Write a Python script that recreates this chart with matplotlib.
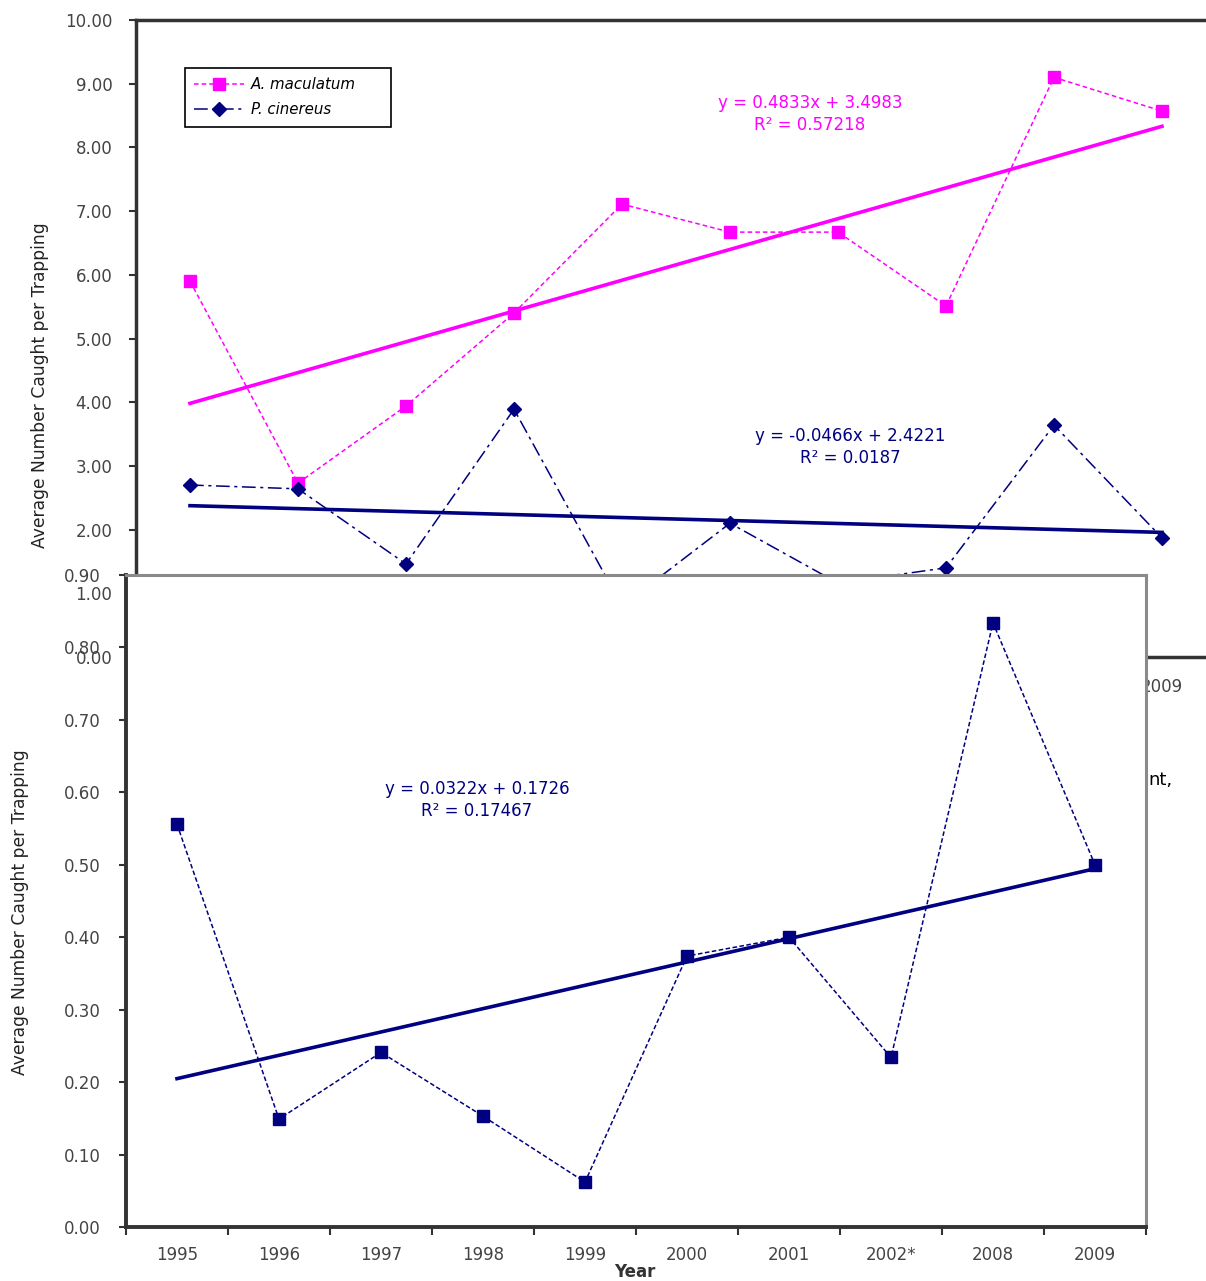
"""Two overlapping salamander trapping charts (A. maculatum / P. cinereus, and a second species)."""

import matplotlib

matplotlib.use("Agg")
import matplotlib.pyplot as plt

YEARS = ["1995", "1996", "1997", "1998", "1999", "2000", "2001", "2002*", "2008", "2009"]

# upper chart
MACULATUM = [5.90, 2.73, 3.94, 5.40, 7.11, 6.67, 6.67, 5.51, 9.10, 8.57]
CINEREUS = [2.70, 2.64, 1.46, 3.89, 0.80, 2.10, 1.16, 1.40, 3.64, 1.87]
MAC_FIT = (0.4833, 3.4983)
CIN_FIT = (-0.0466, 2.4221)
MAC_EQ = "y = 0.4833x + 3.4983\nR² = 0.57218"
CIN_EQ = "y = -0.0466x + 2.4221\nR² = 0.0187"

# lower chart
LOWER = [0.556, 0.149, 0.241, 0.153, 0.062, 0.374, 0.400, 0.234, 0.834, 0.500]
LOWER_FIT = (0.0322, 0.1726)
LOWER_EQ = "y = 0.0322x + 0.1726\nR² = 0.17467"

YLABEL = "Average Number Caught per Trapping"

W, H = 1206, 1281
MAGENTA = "#FF00FF"
NAVY = "#000080"
DARK = "#333333"
TEXT = "#444444"
GREY = "#8a8a8a"


def fx(px):
    return px / W


def fy(py):
    return 1 - py / H


def trend(fit, n):
    xs = list(range(n))
    return xs, [fit[0] * (i + 1) + fit[1] for i in xs]


def main() -> None:
    plt.rcParams["font.family"] = "DejaVu Sans"
    fig = plt.figure(figsize=(W / 100, H / 100), dpi=100)
    xs = list(range(len(YEARS)))

    # ---- upper chart (partly hidden underneath) ----
    top = fig.add_axes([fx(136), fy(657), fx(1080), (657 - 20) / H], zorder=1)
    top.plot(xs, MACULATUM, color=MAGENTA, lw=1.1, ls=(0, (3, 2)),
             marker="s", ms=8, mec=MAGENTA, label="A. maculatum")
    top.plot(xs, CINEREUS, color=NAVY, lw=1.1, ls=(0, (9, 3, 2, 3)),
             marker="D", ms=7, mec=NAVY, label="P. cinereus")
    tx, ty = trend(MAC_FIT, len(YEARS))
    top.plot(tx, ty, color=MAGENTA, lw=2.6)
    tx, ty = trend(CIN_FIT, len(YEARS))
    top.plot(tx, ty, color=NAVY, lw=2.6)
    top.set_xlim(-0.5, len(YEARS) - 0.5)
    top.set_ylim(0, 10)
    top.set_yticks(range(0, 11))
    top.set_yticklabels([f"{v:.2f}" for v in range(0, 11)])
    top.set_xticks(xs)
    top.set_xticklabels(YEARS)
    top.tick_params(axis="y", direction="out", length=5, width=1.5, color=DARK,
                    labelsize=12, labelcolor=TEXT, pad=12)
    top.tick_params(axis="x", length=0, labelsize=12, labelcolor=TEXT, pad=15)
    for side in ("left", "top", "bottom"):
        top.spines[side].set_color(DARK)
        top.spines[side].set_linewidth(2.5)
    top.spines["right"].set_visible(False)
    leg = top.legend(loc="upper left",
                     bbox_to_anchor=(fx(185), fy(125), fx(206), 57 / H),
                     bbox_transform=fig.transFigure, borderaxespad=0,
                     mode="expand", fancybox=False, edgecolor="black",
                     framealpha=1, prop={"style": "italic", "size": 10.8},
                     handlelength=3.3, handletextpad=0.5, labelspacing=0.7,
                     borderpad=0.6)
    leg.get_frame().set_linewidth(1.2)

    fig.text(fx(810), fy(114), MAC_EQ, color=MAGENTA, fontsize=12,
             ha="center", va="center", linespacing=1.25, zorder=1.5)
    fig.text(fx(850), fy(447), CIN_EQ, color=NAVY, fontsize=12,
             ha="center", va="center", linespacing=1.25, zorder=1.5)
    fig.text(fx(1172), fy(780), "nt,", color="black", fontsize=13,
             ha="right", va="center", zorder=1.5)
    fig.text(fx(40), fy(385), YLABEL, rotation=90, fontsize=12.3,
             ha="center", va="center", color="#222222", zorder=1.5)

    # ---- lower chart (pasted on top) ----
    low = fig.add_axes([fx(126), fy(1227), fx(1020), (1227 - 575) / H], zorder=2)
    low.set_facecolor("white")
    low.plot(xs, LOWER, color=NAVY, lw=1.1, ls=(0, (3, 1.6)),
             marker="s", ms=9, mec=NAVY)
    tx, ty = trend(LOWER_FIT, len(YEARS))
    low.plot(tx, ty, color=NAVY, lw=2.6)
    low.set_xlim(-0.5, len(YEARS) - 0.5)
    low.set_ylim(0, 0.9)
    yt = [i / 10 for i in range(10)]
    low.set_yticks(yt)
    low.set_yticklabels([f"{v:.2f}" for v in yt])
    low.set_xticks(xs)
    low.set_xticklabels(YEARS)
    low.set_xticks([i - 0.5 for i in range(len(YEARS) + 1)], minor=True)
    low.tick_params(axis="x", which="major", length=0, labelsize=12,
                    labelcolor=TEXT, pad=14)
    low.tick_params(axis="x", which="minor", direction="out", length=6,
                    width=1.5, color=DARK)
    low.tick_params(axis="y", direction="out", length=5, width=1.5, color=DARK,
                    labelsize=12, labelcolor=TEXT, pad=13)
    for side in ("left", "bottom"):
        low.spines[side].set_color(DARK)
        low.spines[side].set_linewidth(2.8)
    for side in ("top", "right"):
        low.spines[side].set_color(GREY)
        low.spines[side].set_linewidth(2.2)
    low.text(fx(477), fy(800), LOWER_EQ, transform=fig.transFigure,
             color=NAVY, fontsize=12, ha="center", va="center", linespacing=1.25)
    fig.text(fx(20), fy(912), YLABEL, rotation=90, fontsize=12.3,
             ha="center", va="center", color="#222222", zorder=3)
    fig.text(fx(635), fy(1272), "Year", fontsize=12, fontweight="bold",
             ha="center", va="center", color="#333333", zorder=3)

    fig.savefig("out.png", dpi=100)


if __name__ == "__main__":
    main()
